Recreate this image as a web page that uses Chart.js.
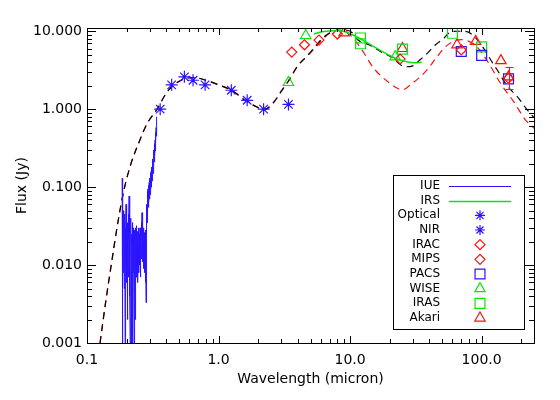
<!DOCTYPE html>
<html><head><meta charset="utf-8">
<script src="https://cdn.jsdelivr.net/npm/chart.js@4.4.1/dist/chart.umd.min.js"></script>
<style>html,body{margin:0;padding:0;background:#fff}#wrap{width:560px;height:400px}</style>
</head><body><div id="wrap"><canvas id="c" width="560" height="400"></canvas></div>
<script>
// ---------- data ----------
const xTickVals = [0.1, 1, 10, 100];
const xTickLabels = ['0.1', '1.0', '10.0', '100.0'];
const yTickVals = [0.001, 0.01, 0.1, 1, 10];
const yTickLabels = ['0.001', '0.010', '0.100', '1.000', '10.000'];

const iueWave = [0.185,0.186,0.187,0.188,0.189,0.190,0.191,0.192,0.193,0.194,0.195,0.196,0.197,0.198,0.199,
  0.200,0.201,0.202,0.203,0.204,0.205,0.206,0.207,0.208,0.209,0.210,0.211,0.212,0.213,0.214,0.215,0.216,0.217,0.218,0.219,
  0.220,0.221,0.222,0.223,0.224,0.225,0.226,0.227,0.228,0.229,0.230,0.231,0.232,0.233,0.234,0.235,0.236,0.237,0.238,0.239,
  0.240,0.241,0.242,0.243,0.244,0.245,0.246,0.247,0.248,0.249,0.250,0.251,0.252,0.253,0.254,0.255,0.256,0.257,0.258,0.259,
  0.260,0.261,0.262,0.263,0.264,0.265,0.266,0.267,0.268,0.269,0.270,0.271,0.272,0.273,0.274,0.275,0.276,0.277,0.278,0.279,
  0.280,0.281,0.282,0.283,0.284,0.285,0.286,0.287,0.288,0.289,0.290,0.291,0.292,0.293,0.294,0.295,0.296,0.297,0.298,0.299,
  0.300,0.301,0.302,0.303,0.304,0.305,0.306,0.307,0.308,0.309,0.310,0.311,0.312,0.313,0.314,0.315,0.316,0.317,0.318,0.319,
  0.320,0.321,0.322,0.323,0.324,0.325,0.326,0.327,0.328,0.329,0.330,0.331,0.332,0.333,0.334,0.335,0.336,0.337,0.338,0.339,0.340];
const iueFlux = [0.13,0.001,0.035,0.008,0.05,0.012,0.03,0.005,0.045,0.02,0.001,0.03,0.01,0.06,0.015,
  0.04,0.006,0.025,0.002,0.035,0.01,0.045,0.007,0.022,0.077,0.012,0.03,0.004,0.001,0.028,0.009,0.04,0.013,0.001,0.025,
  0.006,0.035,0.001,0.018,0.03,0.008,0.022,0.012,0.001,0.028,0.01,0.02,0.002,0.025,0.014,0.03,0.007,0.02,0.011,0.032,
  0.009,0.022,0.013,0.027,0.006,0.018,0.012,0.03,0.008,0.02,0.014,0.025,0.01,0.03,0.016,0.022,0.007,0.026,0.012,0.035,
  0.015,0.024,0.047,0.018,0.028,0.011,0.022,0.016,0.03,0.009,0.02,0.013,0.026,0.008,0.018,0.012,0.024,0.006,0.02,0.015,
  0.028,0.0033,0.025,0.04,0.025,0.06,0.035,0.075,0.04,0.09,0.05,0.095,0.055,0.1,0.06,0.105,0.065,0.115,0.07,0.12,
  0.075,0.13,0.08,0.14,0.09,0.15,0.095,0.16,0.1,0.17,0.11,0.18,0.12,0.2,0.13,0.21,0.14,0.23,0.15,0.25,
  0.17,0.27,0.19,0.3,0.21,0.32,0.23,0.36,0.26,0.4,0.29,0.45,0.33,0.5,0.38,0.58,0.45,0.68,0.55,0.78,0.8];

const irsWave = [5.3, 6, 7, 8, 9, 10, 11.5, 13, 15, 17.5, 20, 22, 25, 28, 31, 35];
const irsFlux = [9.2, 9.8, 10.1, 10.2, 9.9, 9.3, 8.3, 7.4, 6.4, 5.5, 4.9, 4.5, 4.2, 4.0, 3.95, 4.0];

const optWave = [0.36, 0.44, 0.55, 0.64, 0.79];
const optFlux = [1.0, 2.05, 2.6, 2.35, 2.05];
const nirWave = [1.25, 1.65, 2.2, 3.4];
const nirFlux = [1.75, 1.3, 1.0, 1.15];
const iracWave = [3.6, 4.5, 5.8, 8.0];
const iracFlux = [5.4, 6.7, 7.7, 9.2];
const mipsWave = [24, 70, 160];
const mipsFlux = [4.4, 5.75, 2.5];
const pacsWave = [70, 100, 160];
const pacsFlux = [5.5, 4.9, 2.45];
const wiseWave = [3.4, 4.6, 22];
const wiseFlux = [2.2, 8.8, 4.7];
const irasWave = [12, 12, 25, 60, 100];
const irasFlux = [8.2, 6.9, 5.9, 9.4, 6.3];
const akariWave = [9, 25, 65, 90, 140, 160];
const akariFlux = [9.5, 6.0, 6.7, 7.4, 4.2, 2.6];
const akariErrLo = [null, null, null, null, null, 1.8];
const akariErrHi = [null, null, null, null, null, 3.5];

const modelWave = [0.1256,0.1395,0.155,0.172,0.191,0.216,0.249,0.286,0.341,0.4,0.45,0.55,0.65,0.8,1.0,1.26,1.64,2.0,2.2,2.6,3.0,3.4,4.0,4.65,5.27,6.1,7.05,8.0,9.5,10.5,11.2,14.2,17,21.2,23.3,26,30,34,38.6,44.6,51.5,57,65,77,90,100,117,131,156,190,220,250];
const modelFlux = [0.001,0.0036,0.0117,0.036,0.092,0.2,0.38,0.65,1.0,1.6,2.0,2.45,2.55,2.35,2.05,1.74,1.25,1.05,0.98,1.2,1.7,2.3,3.6,4.7,6.0,8.0,9.6,10.3,10.3,9.4,8.0,6.6,5.5,4.5,3.9,3.5,3.6,4.3,5.2,6.7,8.1,9.6,10.0,9.9,8.2,6.6,4.3,3.2,2.0,1.4,1.0,0.78];
const model2Wave = [0.1256,0.1395,0.155,0.172,0.191,0.216,0.249,0.286,0.341,0.4,0.45,0.55,0.65,0.8,1.0,1.26,1.64,2.0,2.2,2.6,3.0,3.4,4.0,4.65,5.27,6.28,7.3,8.5,10,12.3,15.1,20.1,25,28.7,37.4,45.8,53,61,70,80,90,113,139,175,215,250];
const model2Flux = [0.001,0.0036,0.0117,0.036,0.092,0.2,0.38,0.65,1.0,1.6,2.0,2.45,2.55,2.35,2.05,1.74,1.25,1.05,0.98,1.2,1.7,2.3,3.6,4.7,5.8,8.1,9.9,10.3,9.0,5.75,3.36,2.15,1.77,2.05,3.03,4.7,6.3,7.4,7.8,7.4,6.6,3.9,2.15,1.25,0.73,0.57];

// ---------- helpers ----------
const pts = (w, f) => w.map((x, i) => ({x: x, y: f[i]}));
const FONT = 'DejaVu Sans';
const BLUE = '#2a14ff', GREEN = '#10e010', RED = '#ff1010';

function sym(label, w, f, style, color, r) {
  return {label, data: pts(w, f), showLine: false, pointStyle: style, pointRadius: r,
    borderColor: color, backgroundColor: 'rgba(0,0,0,0)', pointBorderWidth: 1.2,
    legendKind: 'point'};
}

const datasets = [
  {label: 'IUE', data: pts(iueWave, iueFlux), showLine: true, borderColor: BLUE, borderWidth: 1,
   pointRadius: 0, legendKind: 'line'},
  {label: 'IRS', data: pts(irsWave, irsFlux), showLine: true, borderColor: GREEN, borderWidth: 1.5,
   pointRadius: 0, cubicInterpolationMode: 'monotone', legendKind: 'line'},
  sym('Optical', optWave, optFlux, 'star', BLUE, 6),
  sym('NIR', nirWave, nirFlux, 'star', BLUE, 6),
  sym('IRAC', iracWave, iracFlux, 'rectRot', RED, 5),
  sym('MIPS', mipsWave, mipsFlux, 'rectRot', RED, 5),
  sym('PACS', pacsWave, pacsFlux, 'rect', BLUE, 7),
  sym('WISE', wiseWave, wiseFlux, 'triangle', GREEN, 6),
  sym('IRAS', irasWave, irasFlux, 'rect', GREEN, 7),
  sym('Akari', akariWave, akariFlux, 'triangle', RED, 6),
  {label: 'model', data: pts(modelWave, modelFlux), showLine: true, borderColor: '#000', borderWidth: 1.2,
   borderDash: [7, 5], pointRadius: 0, cubicInterpolationMode: 'monotone', legendKind: null},
  {label: 'model2', data: pts(model2Wave, model2Flux), showLine: true, borderColor: RED, borderWidth: 1.2,
   borderDash: [7, 5], pointRadius: 0, cubicInterpolationMode: 'monotone', legendKind: null},
];

// ---------- plugins ----------
const idlBox = {
  id: 'idlBox',
  afterDatasetsDraw(chart) {
    const ctx = chart.ctx, a = chart.chartArea;
    const xs = chart.scales.x, ys = chart.scales.y;
    ctx.save();
    ctx.strokeStyle = '#000';
    ctx.lineWidth = 1;
    ctx.strokeRect(Math.round(a.left) + 0.5, Math.round(a.top) + 0.5,
      Math.round(a.right - a.left), Math.round(a.bottom - a.top));
    ctx.beginPath();
    [0.1, 1, 10, 100].forEach(d => {
      for (let m = 1; m <= 9; m++) {
        const v = m * d;
        if (v < xs.min || v > xs.max) continue;
        const px = Math.round(xs.getPixelForValue(v)) + 0.5;
        const L = m === 1 ? 7 : 4;
        ctx.moveTo(px, a.bottom); ctx.lineTo(px, a.bottom - L);
        ctx.moveTo(px, a.top); ctx.lineTo(px, a.top + L);
      }
    });
    [0.001, 0.01, 0.1, 1, 10].forEach(d => {
      for (let m = 1; m <= 9; m++) {
        const v = m * d;
        if (v < ys.min || v > ys.max) continue;
        const py = Math.round(ys.getPixelForValue(v)) + 0.5;
        const L = m === 1 ? 9 : 5;
        ctx.moveTo(a.left, py); ctx.lineTo(a.left + L, py);
        ctx.moveTo(a.right, py); ctx.lineTo(a.right - L, py);
      }
    });
    ctx.stroke();
    // error bars (Akari)
    ctx.strokeStyle = RED;
    ctx.beginPath();
    akariWave.forEach((w, i) => {
      if (akariErrLo[i] == null) return;
      const px = Math.round(xs.getPixelForValue(w)) + 0.5;
      const y1 = ys.getPixelForValue(akariErrLo[i]);
      const y2 = ys.getPixelForValue(akariErrHi[i]);
      ctx.moveTo(px, y1); ctx.lineTo(px, y2);
      ctx.moveTo(px - 4, Math.round(y1) + 0.5); ctx.lineTo(px + 4, Math.round(y1) + 0.5);
      ctx.moveTo(px - 4, Math.round(y2) + 0.5); ctx.lineTo(px + 4, Math.round(y2) + 0.5);
    });
    ctx.stroke();
    ctx.restore();
  },
  afterDraw(chart) {
    const ctx = chart.ctx;
    const bx = 393, by = 175, bw = 131, bh = 154;
    ctx.save();
    ctx.fillStyle = '#fff';
    ctx.fillRect(bx, by, bw, bh);
    ctx.strokeStyle = '#000';
    ctx.lineWidth = 1;
    ctx.strokeRect(bx + 0.5, by + 0.5, bw, bh);
    ctx.font = '12px "' + FONT + '"';
    ctx.textAlign = 'right';
    ctx.textBaseline = 'middle';
    const items = chart.data.datasets.filter(d => d.legendKind);
    items.forEach((d, i) => {
      const y = 186 + i * 14.67;
      ctx.fillStyle = '#000';
      ctx.fillText(d.label, 440, y);
      if (d.legendKind === 'line') {
        ctx.strokeStyle = d.borderColor;
        ctx.lineWidth = d.borderWidth;
        ctx.beginPath();
        ctx.moveTo(449, Math.round(y) + 0.5); ctx.lineTo(511, Math.round(y) + 0.5);
        ctx.stroke();
      } else {
        ctx.strokeStyle = d.borderColor;
        ctx.fillStyle = 'rgba(0,0,0,0)';
        ctx.lineWidth = d.pointBorderWidth;
        Chart.helpers.drawPoint(ctx, {pointStyle: d.pointStyle, rotation: 0,
          radius: d.pointStyle === 'star' ? 5 : d.pointRadius, borderWidth: d.pointBorderWidth}, 480, y);
      }
    });
    ctx.restore();
  }
};

const tickFont = {family: FONT, size: 14};
new Chart(document.getElementById('c'), {
  type: 'scatter',
  data: {datasets},
  options: {
    responsive: false,
    animation: false,
    devicePixelRatio: 1,
    events: [],
    layout: {padding: {top: 28, right: 26, left: 0, bottom: 0}},
    plugins: {legend: {display: false}, tooltip: {enabled: false}},
    scales: {
      x: {
        type: 'logarithmic', min: 0.1, max: 250,
        afterBuildTicks: s => { s.ticks = xTickVals.map(v => ({value: v})); },
        afterFit: s => { s.height = 57; },
        ticks: {callback: (v, i) => xTickLabels[i], font: tickFont, color: '#000', padding: 9,
                maxRotation: 0, autoSkip: false},
        grid: {display: false, drawTicks: false},
        border: {display: false},
        title: {display: true, text: 'Wavelength (micron)', font: tickFont, color: '#000',
                padding: {top: 0, bottom: 12}}
      },
      y: {
        type: 'logarithmic', min: 0.001, max: 11,
        afterBuildTicks: s => { s.ticks = yTickVals.map(v => ({value: v})); },
        afterFit: s => { s.width = 87; },
        ticks: {callback: (v, i) => yTickLabels[i], font: tickFont, color: '#000', padding: 5,
                autoSkip: false},
        grid: {display: false, drawTicks: false},
        border: {display: false},
        title: {display: true, text: 'Flux (Jy)', font: tickFont, color: '#000',
                padding: {top: 14, bottom: 0}}
      }
    }
  },
  plugins: [idlBox]
});
</script>
</body></html>
